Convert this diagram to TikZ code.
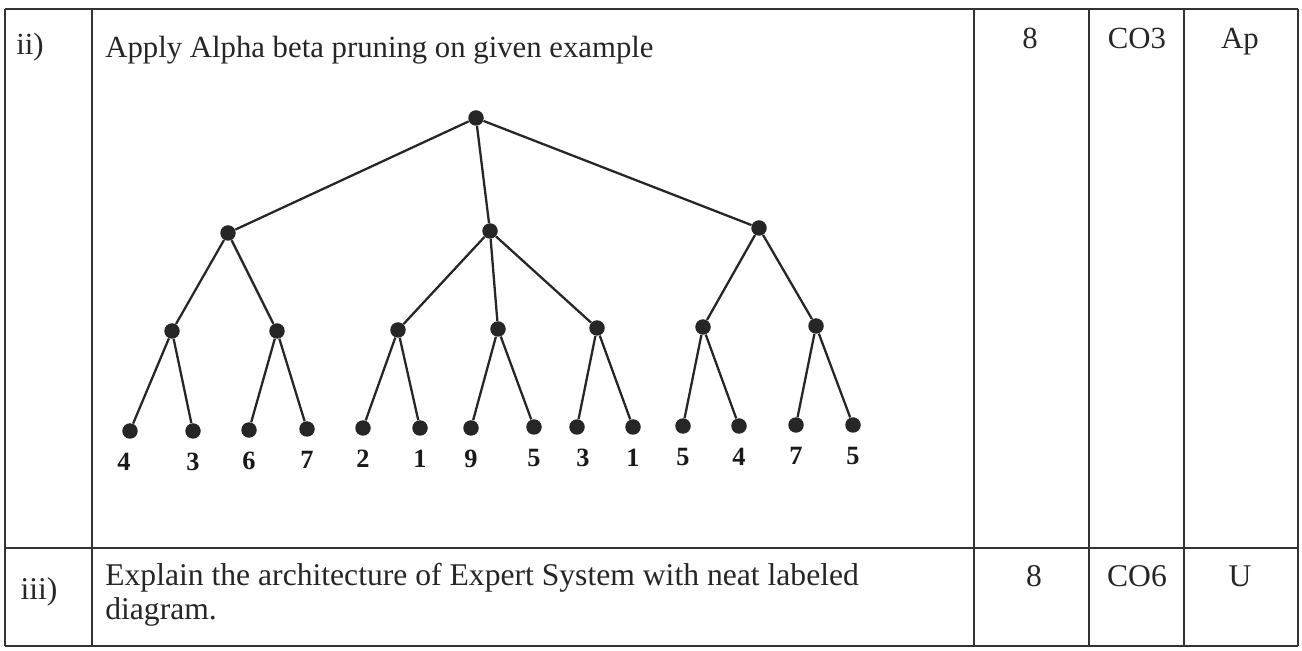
\documentclass[tikz,border=0pt]{standalone}
\usepackage{fontspec}
\setmainfont{Liberation Serif}
\usetikzlibrary{positioning}
\begin{document}
\begin{tikzpicture}[x=0.02cm, y=-0.02cm,
  dot/.style={circle, fill=black!85, inner sep=0pt, minimum size=0.31cm},
  val/.style={font=\fontsize{15}{18}\selectfont\bfseries, inner sep=0pt, text=black!90},
  txt/.style={font=\fontsize{17.5}{21}\selectfont, inner sep=0pt, text=black!85},
  txtb/.style={font=\fontsize{18}{21}\selectfont, inner sep=0pt, text=black!85},
  rule/.style={line width=0.9pt, black!80},
  edge/.style={line width=1.3pt, black!85}]
\useasboundingbox (0,0) rectangle (1302,651);

% table
\draw[rule] (5,9) -- (1298,9);
\draw[rule] (5,548) -- (1298,548);
\draw[rule] (5,646) -- (1298,646);
\draw[rule] (5,9) -- (5,646);
\draw[rule] (92,9) -- (92,646);
\draw[rule] (974,9) -- (974,646);
\draw[rule] (1089,9) -- (1089,646);
\draw[rule] (1184,9) -- (1184,646);
\draw[rule] (1298,9) -- (1298,646);

\node[txt, anchor=base] (no2) at (30,55) {ii)};
\node[txt, anchor=base west] (q2) at (105,58) {Apply Alpha beta pruning on given example};
\node[txt, anchor=base] (m2) at (1030,49) {8};
\node[txt, anchor=base] (co2) at (1137,49) {CO3};
\node[txt, anchor=base] (bl2) at (1240,49) {Ap};

\node[txtb, anchor=base] (no3) at (39,600) {iii)};
\node[txtb, anchor=base west] (q3) at (105,586) {Explain the architecture of Expert System with neat labeled};
\node[txtb, anchor=base west] (q3b) at (105,620) {diagram.};
\node[txtb, anchor=base] (m3) at (1034,587) {8};
\node[txtb, anchor=base] (co3) at (1137,587) {CO6};
\node[txtb, anchor=base] (bl3) at (1240,587) {U};

% tree
\node[dot] (r) at (476,118) {};
\node[dot] (a) at (228,233) {};
\node[dot] (b) at (490,231) {};
\node[dot] (c) at (759,228) {};

\node[dot] (a1) at (172,331) {};
\node[dot] (a2) at (277,331) {};
\node[dot] (b1) at (398,330) {};
\node[dot] (b2) at (498,329) {};
\node[dot] (b3) at (597,328) {};
\node[dot] (c1) at (703,327) {};
\node[dot] (c2) at (816,326) {};

\node[dot] (a11) at (130,431) {};
\node[dot] (a12) at (193,431) {};
\node[dot] (a21) at (249,430) {};
\node[dot] (a22) at (307,429) {};
\node[dot] (b11) at (363,428) {};
\node[dot] (b12) at (420,428) {};
\node[dot] (b21) at (471,428) {};
\node[dot] (b22) at (534,427) {};
\node[dot] (b31) at (577,427) {};
\node[dot] (b32) at (633,427) {};
\node[dot] (c11) at (683,426) {};
\node[dot] (c12) at (739,426) {};
\node[dot] (c21) at (796,425) {};
\node[dot] (c22) at (853,425) {};

\draw[edge] (r) -- (a);
\draw[edge] (r) -- (b);
\draw[edge] (r) -- (c);
\draw[edge] (a) -- (a1);
\draw[edge] (a) -- (a2);
\draw[edge] (b) -- (b1);
\draw[edge] (b) -- (b2);
\draw[edge] (b) -- (b3);
\draw[edge] (c) -- (c1);
\draw[edge] (c) -- (c2);
\draw[edge] (a1) -- (a11);
\draw[edge] (a1) -- (a12);
\draw[edge] (a2) -- (a21);
\draw[edge] (a2) -- (a22);
\draw[edge] (b1) -- (b11);
\draw[edge] (b1) -- (b12);
\draw[edge] (b2) -- (b21);
\draw[edge] (b2) -- (b22);
\draw[edge] (b3) -- (b31);
\draw[edge] (b3) -- (b32);
\draw[edge] (c1) -- (c11);
\draw[edge] (c1) -- (c12);
\draw[edge] (c2) -- (c21);
\draw[edge] (c2) -- (c22);

% leaf values
\node[val, below=0.28cm of a11, xshift=-0.12cm] (v1) {4};
\node[val, below=0.28cm of a12] (v2) {3};
\node[val, below=0.28cm of a21] (v3) {6};
\node[val, below=0.28cm of a22] (v4) {7};
\node[val, below=0.28cm of b11] (v5) {2};
\node[val, below=0.28cm of b12] (v6) {1};
\node[val, below=0.28cm of b21] (v7) {9};
\node[val, below=0.28cm of b22] (v8) {5};
\node[val, below=0.28cm of b31, xshift=0.12cm] (v9) {3};
\node[val, below=0.28cm of b32] (v10) {1};
\node[val, below=0.28cm of c11] (v11) {5};
\node[val, below=0.28cm of c12] (v12) {4};
\node[val, below=0.28cm of c21] (v13) {7};
\node[val, below=0.28cm of c22] (v14) {5};

\end{tikzpicture}
\end{document}
